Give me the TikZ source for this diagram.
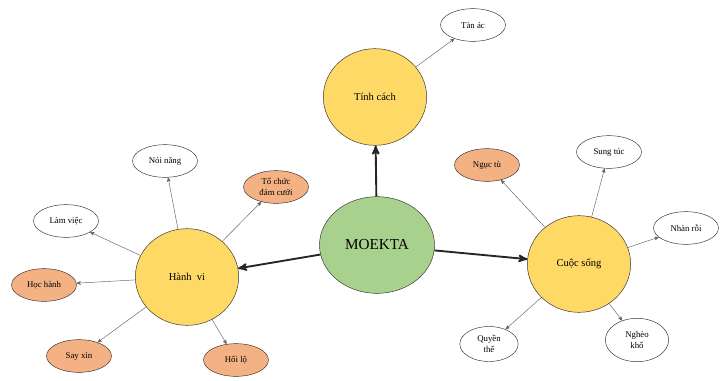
\documentclass[tikz,border=0pt]{standalone}
\usepackage{fontspec}
\setmainfont{Liberation Serif}
\usetikzlibrary{arrows}
\usetikzlibrary{shapes.geometric}

\definecolor{hubgreen}{HTML}{A9D18E}
\definecolor{topicyellow}{HTML}{FFD966}
\definecolor{leafsalmon}{HTML}{F4B183}

\begin{document}
\begin{tikzpicture}[x=0.03cm,y=-0.03cm,>=stealth',
                    hub node/.style={ellipse,draw=black!80,fill=hubgreen,inner sep=0pt,
                      minimum width=3.45cm,minimum height=2.9cm,font=\fontsize{13}{15}\selectfont},
                    topic node/.style={ellipse,draw=black!80,fill=topicyellow,inner sep=0pt,
                      minimum width=3.1cm,minimum height=2.9cm,font=\fontsize{9}{11}\selectfont},
                    leaf node/.style={ellipse,draw=black!80,fill=white,inner sep=0pt,
                      minimum width=1.95cm,minimum height=0.98cm,align=center,
                      font=\fontsize{7.5}{9}\selectfont},
                    hot leaf/.style={leaf node,fill=leafsalmon},
                    main arrow/.style={->,line width=1.6pt,black!85},
                    thin arrow/.style={->,line width=0.4pt,black!60}]
  \useasboundingbox (0,0) rectangle (720,380);

  \node[hub node] (moekta) at (377,245) {MOEKTA};
  \node[topic node] (tinh) at (375,97) {Tính cách};
  \node[topic node] (hanh) at (187,277) {Hành\ \ vi};
  \node[topic node] (song) at (579,264) {Cuộc sống};

  \node[leaf node] (tan) at (473,25) {Tàn ác};

  \node[leaf node] (noi) at (165,161) {Nói năng};
  \node[hot leaf] (cuoi) at (276,187) {Tổ chức\\đám cưới};
  \node[leaf node] (lam) at (66,221) {Làm việc};
  \node[hot leaf] (hoc) at (44,285) {Học hành};
  \node[hot leaf] (say) at (79,356) {Say xỉn};
  \node[hot leaf] (hoi) at (236,360) {Hối lộ};

  \node[hot leaf] (nguc) at (487,165) {Ngục tù};
  \node[leaf node] (sung) at (609,152) {Sung túc};
  \node[leaf node] (nhan) at (686,228) {Nhàn rỗi};
  \node[leaf node,minimum width=1.75cm,minimum height=1.05cm] (quyen) at (489,344) {Quyền\\thế};
  \node[leaf node,minimum width=1.9cm,minimum height=1.3cm] (ngheo) at (637,340) {Nghèo\\khổ};

  \path[main arrow]
    (moekta) edge (tinh)
             edge (hanh)
             edge (song);

  \path[thin arrow]
    (tinh) edge (tan)
    (hanh) edge (noi)
           edge (cuoi)
           edge (lam)
           edge (hoc)
           edge (say)
           edge (hoi)
    (song) edge (nguc)
           edge (sung)
           edge (nhan)
           edge (quyen)
           edge (ngheo);
\end{tikzpicture}
\end{document}
